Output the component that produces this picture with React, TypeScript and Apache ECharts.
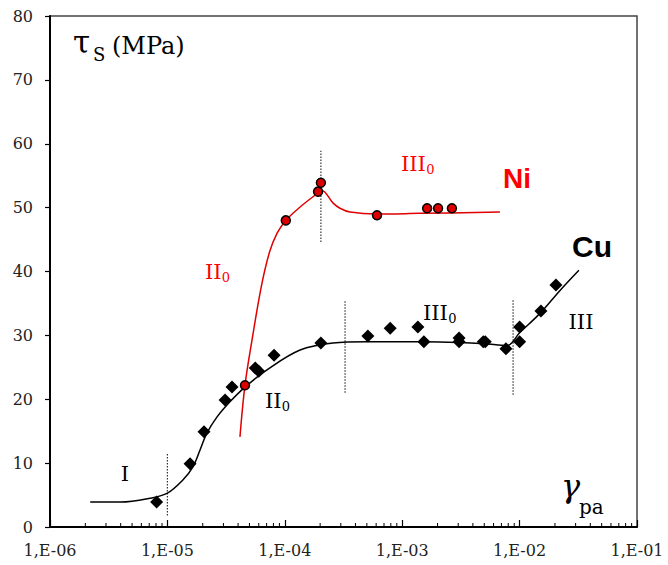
import React, { useEffect, useRef } from "react";
import * as echarts from "echarts";

// Cu measured points (gamma_pa, tau_s)
const cuX = [8.1e-6, 1.56e-5, 2.05e-5, 3.1e-5, 3.55e-5, 5.6e-5, 6.0e-5, 8.1e-5, 2.03e-4, 5.1e-4, 7.9e-4, 1.36e-3, 1.53e-3, 3.05e-3, 3.05e-3, 4.9e-3, 5.1e-3, 7.65e-3, 1.0e-2, 1.0e-2, 1.52e-2, 2.04e-2];
const cuY = [3.9, 9.9, 14.9, 19.9, 21.9, 24.9, 24.4, 26.9, 28.8, 29.9, 31.1, 31.3, 29.0, 29.6, 29.0, 29.0, 29.0, 27.9, 31.3, 29.0, 33.8, 37.9];

// Ni measured points
const niX = [4.58e-5, 1.02e-4, 1.92e-4, 2.03e-4, 6.1e-4, 1.63e-3, 2.02e-3, 2.65e-3];
const niY = [22.2, 48.0, 52.5, 53.9, 48.8, 49.9, 49.9, 49.9];

// Cu fitted curve
const cuFitX = [2.2e-6, 4e-6, 7.1e-6, 1e-5, 1.36e-5, 1.65e-5, 1.9e-5, 2.17e-5, 2.64e-5, 3.41e-5, 4.58e-5, 7.05e-5, 1.35e-4, 2.57e-4, 5e-4, 1.5e-3, 3e-3, 5e-3, 7.8e-3, 1e-2, 1.52e-2, 2.2e-2, 3.2e-2];
const cuFitY = [3.9, 3.9, 4.5, 5.3, 7.4, 9.4, 12.1, 14.7, 17.2, 19.6, 21.9, 24.6, 27.7, 28.8, 29.0, 29.0, 28.9, 28.7, 28.4, 30.4, 33.6, 37.0, 40.2];

// Ni fitted curve
const niFitX = [4.15e-5, 4.58e-5, 5.26e-5, 6.3e-5, 7.4e-5, 8.6e-5, 1.02e-4, 1.35e-4, 1.92e-4, 2.07e-4, 2.58e-4, 2.95e-4, 3.6e-4, 6.1e-4, 1.4e-3, 6.8e-3];
const niFitY = [14.1, 22.2, 29.3, 37.6, 43.0, 46.0, 48.0, 50.1, 52.3, 52.7, 50.7, 49.9, 49.3, 49.0, 49.1, 49.3];

// Dotted dividers between stages
const dividerX = [1e-5, 2.03e-4, 3.26e-4, 8.8e-3];
const dividerLow = [1.8, 44.6, 21.0, 20.7];
const dividerHigh = [11.5, 58.9, 35.5, 35.5];

// Axis
const xMin = 1e-6;
const xMax = 1e-1;
const yTicks = [0, 10, 20, 30, 40, 50, 60, 70, 80];
const minorMultipliers = [2, 3, 4, 5, 6, 7, 8, 9];
const decades = [-6, -5, -4, -3, -2];

const serif = "DejaVu Serif";
const sans = "Liberation Sans";

function subText(main: string, sub: string, left: number, baseline: number, color: string, size: number, subSize: number) {
  const mainW = main.length * 0.4 * size;
  return [
    {
      type: "text",
      x: left,
      y: baseline - 0.35 * size,
      style: { text: main, fill: color, font: `${size}px "${serif}"`, textAlign: "left", textVerticalAlign: "middle" },
      silent: true,
    },
    {
      type: "text",
      x: left + mainW,
      y: baseline + 3 - 0.35 * subSize,
      style: { text: sub, fill: color, font: `${subSize}px "${serif}"`, textAlign: "left", textVerticalAlign: "middle" },
      silent: true,
    },
  ];
}

export default function App() {
  const ref = useRef<HTMLDivElement>(null);
  useEffect(() => {
    if (!ref.current) return;
    const chart = echarts.init(ref.current, undefined, { renderer: "svg" });

    const minorData: number[][] = [];
    decades.forEach((d) => minorMultipliers.forEach((m) => minorData.push([m * Math.pow(10, d), 0])));

    const dividerSeries = dividerX.map((x, i) => ({
      type: "line",
      data: [[x, dividerLow[i]], [x, dividerHigh[i]]],
      symbol: "none",
      lineStyle: { color: "#333", width: 1.2, type: [1.5, 1.5] },
      silent: true,
      z: 1,
    }));

    const option: any = {
      animation: false,
      grid: { left: 50, top: 16, right: 31, bottom: 38, show: true, borderColor: "#444", borderWidth: 1.5, backgroundColor: "transparent" },
      xAxis: {
        type: "log",
        logBase: 10,
        min: xMin,
        max: xMax,
        axisLine: { lineStyle: { color: "#000", width: 2 } },
        axisTick: { inside: true, length: 7, lineStyle: { color: "#000", width: 1.2 } },
        splitLine: { show: false },
        axisLabel: {
          margin: 15,
          color: "#222",
          fontFamily: serif,
          fontSize: 16,
          formatter: (v: number) => {
            const e = Math.round(Math.log10(v));
            return "1,E-" + String(-e).padStart(2, "0");
          },
        },
      },
      yAxis: {
        type: "value",
        min: yTicks[0],
        max: yTicks[yTicks.length - 1],
        interval: 10,
        axisLine: { show: true, lineStyle: { color: "#000", width: 2 } },
        axisTick: { show: true, length: 5, lineStyle: { color: "#000", width: 1.2 } },
        splitLine: { show: false },
        axisLabel: { margin: 17, color: "#222", fontFamily: serif, fontSize: 16 },
      },
      series: [
        ...dividerSeries,
        {
          type: "custom",
          data: minorData,
          clip: false,
          silent: true,
          renderItem: (params: any, api: any) => {
            const p = api.coord([api.value(0), 0]);
            return {
              type: "line",
              shape: { x1: p[0], y1: p[1], x2: p[0], y2: p[1] - 4 },
              style: { stroke: "#000", lineWidth: 1 },
            };
          },
          z: 5,
        },
        {
          type: "line",
          data: cuFitX.map((x, i) => [x, cuFitY[i]]),
          symbol: "none",
          smooth: 0.35,
          lineStyle: { color: "#000", width: 1.5 },
          z: 2,
        },
        {
          type: "line",
          data: niFitX.map((x, i) => [x, niFitY[i]]),
          symbol: "none",
          smooth: 0.35,
          lineStyle: { color: "#e00000", width: 1.5 },
          z: 2,
        },
        {
          type: "scatter",
          data: cuX.map((x, i) => [x, cuY[i]]),
          symbol: "diamond",
          symbolSize: 13,
          itemStyle: { color: "#000", opacity: 1 },
          z: 3,
        },
        {
          type: "scatter",
          data: niX.map((x, i) => [x, niY[i]]),
          symbol: "circle",
          symbolSize: 9,
          itemStyle: { color: "#dd0000", borderColor: "#000", borderWidth: 1.5, opacity: 1 },
          z: 4,
        },
      ],
      graphic: [
        { type: "text", x: 73, y: 53 - 0.35 * 31, style: { text: "τ", fill: "#000", font: `31px "${serif}"`, textAlign: "left", textVerticalAlign: "middle" }, silent: true },
        { type: "text", x: 93, y: 61 - 0.35 * 18, style: { text: "S", fill: "#000", font: `18px "${serif}"`, textAlign: "left", textVerticalAlign: "middle" }, silent: true },
        { type: "text", x: 112, y: 54 - 0.35 * 24, style: { text: "(MPa)", fill: "#000", font: `24px "${serif}"`, textAlign: "left", textVerticalAlign: "middle" }, silent: true },
        { type: "text", x: 561, y: 497 - 0.35 * 32, style: { text: "γ", fill: "#000", font: `italic 32px "${serif}"`, textAlign: "left", textVerticalAlign: "middle" }, silent: true },
        { type: "text", x: 579, y: 514 - 0.35 * 20, style: { text: "pa", fill: "#000", font: `20px "${serif}"`, textAlign: "left", textVerticalAlign: "middle" }, silent: true },
        { type: "text", x: 125, y: 481 - 0.35 * 21, style: { text: "I", fill: "#000", font: `21px "${serif}"`, textAlign: "center", textVerticalAlign: "middle" }, silent: true },
        { type: "text", x: 581, y: 329 - 0.35 * 21, style: { text: "III", fill: "#000", font: `21px "${serif}"`, textAlign: "center", textVerticalAlign: "middle" }, silent: true },
        ...subText("II", "0", 265, 408, "#000", 21, 13),
        ...subText("II", "0", 205, 279, "#ff0000", 21, 13),
        ...subText("III", "0", 401, 171, "#ff0000", 21, 13),
        ...subText("III", "0", 423, 320, "#000", 21, 13),
        { type: "text", x: 503, y: 188 - 0.35 * 28, style: { text: "Ni", fill: "#ff0000", font: `bold 28px "${sans}"`, textAlign: "left", textVerticalAlign: "middle" }, silent: true },
        { type: "text", x: 572, y: 257 - 0.35 * 30, style: { text: "Cu", fill: "#000", font: `bold 30px "${sans}"`, textAlign: "left", textVerticalAlign: "middle" }, silent: true },
      ],
    };
    chart.setOption(option);
    return () => chart.dispose();
  }, []);
  return <div ref={ref} style={{ position: "absolute", left: 0, top: 0, width: 668, height: 565 }} />;
}
